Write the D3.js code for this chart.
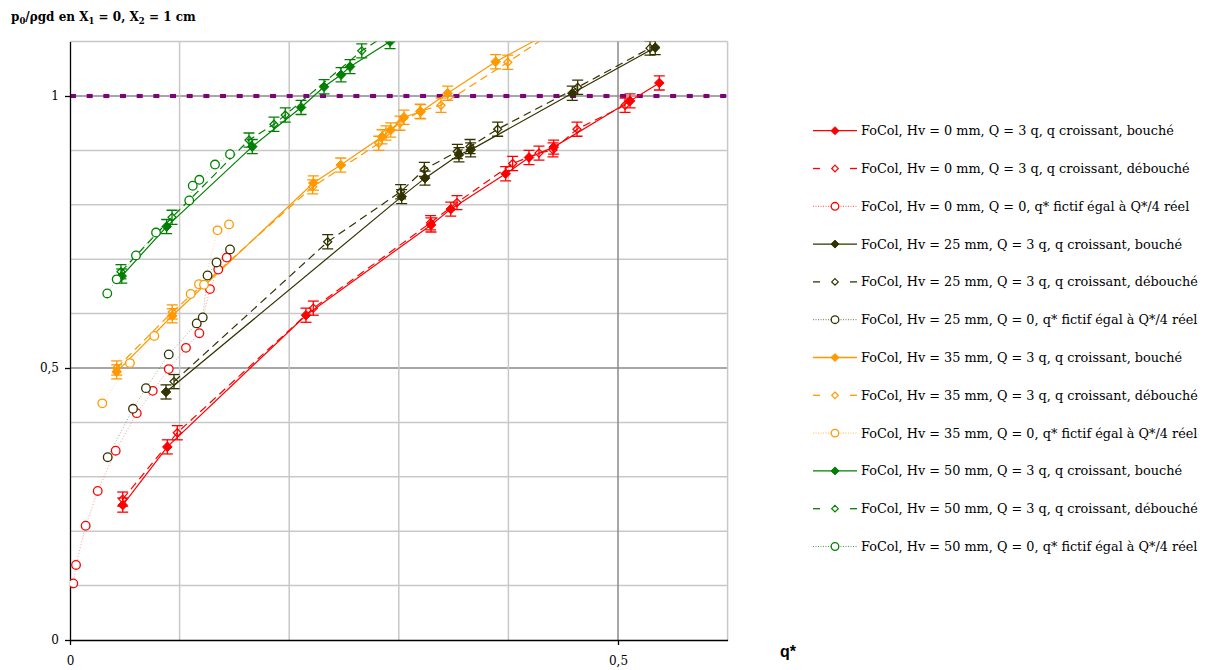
<!DOCTYPE html>
<html><head><meta charset="utf-8">
<script src="https://cdn.jsdelivr.net/npm/d3@7"></script>
<style>body{margin:0;background:#fff}</style>
</head><body><svg id="c" width="1208" height="670"></svg>
<script>
// ---------- DATA ----------
const red0BoucheX   = [0.0481,0.0888,0.2153,0.3294,0.3474,0.3975,0.4188,0.4413,0.5110,0.5377];
const red0BoucheY   = [0.248,0.355,0.597,0.763,0.792,0.857,0.887,0.906,0.991,1.024];
const red0DeboucheX = [0.0481,0.0979,0.2220,0.3290,0.3531,0.4039,0.4279,0.4407,0.4626,0.5064];
const red0DeboucheY = [0.259,0.381,0.610,0.767,0.804,0.876,0.895,0.901,0.939,0.983];
const red0ZeroX     = [0.003,0.0055,0.0143,0.0253,0.0417,0.0609,0.0755,0.0901,0.1058,0.118,0.1277,0.1353,0.143];
const red0ZeroY     = [0.104,0.138,0.210,0.274,0.348,0.417,0.458,0.498,0.537,0.564,0.645,0.681,0.703];

const olive25BoucheX   = [0.0876,0.3026,0.3239,0.3549,0.3656,0.4583,0.5340];
const olive25BoucheY   = [0.456,0.815,0.849,0.892,0.901,1.005,1.089];
const olive25DeboucheX = [0.0949,0.2351,0.3017,0.3233,0.3534,0.3650,0.3902,0.4632,0.5292];
const olive25DeboucheY = [0.475,0.732,0.824,0.865,0.898,0.907,0.939,1.016,1.088];
const olive25ZeroX     = [0.0344,0.0575,0.0693,0.0901,0.1156,0.1211,0.1255,0.1337,0.146];
const olive25ZeroY     = [0.336,0.425,0.463,0.525,0.582,0.593,0.670,0.694,0.718];

const orange35BoucheX   = [0.0426,0.0933,0.2220,0.2470,0.2847,0.2926,0.3047,0.3200,0.3446,0.3884,0.4416];
const orange35BoucheY   = [0.493,0.596,0.840,0.873,0.925,0.9375,0.961,0.971,1.005,1.063,1.121];
const orange35DeboucheX = [0.0426,0.0933,0.2214,0.2817,0.2883,0.3011,0.3193,0.3385,0.3994,0.4425];
const orange35DeboucheY = [0.500,0.603,0.833,0.913,0.932,0.950,0.972,0.983,1.062,1.120];
const orange35ZeroX     = [0.0295,0.0547,0.0769,0.1101,0.1177,0.1223,0.1346,0.1451];
const orange35ZeroY     = [0.435,0.509,0.559,0.636,0.654,0.653,0.753,0.764];

const green50BoucheX   = [0.0472,0.0882,0.1663,0.2108,0.2318,0.2473,0.2555,0.2920];
const green50BoucheY   = [0.669,0.760,0.907,0.979,1.017,1.039,1.054,1.100];
const green50DeboucheX = [0.0465,0.0931,0.1633,0.1861,0.1964,0.2662,0.2920];
const green50DeboucheY = [0.677,0.777,0.919,0.948,0.965,1.083,1.117];
const green50ZeroX     = [0.034,0.0426,0.0602,0.0785,0.1088,0.112,0.118,0.1323,0.146];
const green50ZeroY     = [0.637,0.663,0.707,0.749,0.808,0.835,0.846,0.874,0.893];

const errorHalf = 0.013;
const referenceY = 1;

const legendLabels = [
 "FoCol, Hv = 0 mm, Q = 3 q, q croissant, bouché",
 "FoCol, Hv = 0 mm, Q = 3 q, q croissant, débouché",
 "FoCol, Hv = 0 mm, Q = 0, q* fictif égal à Q*/4 réel",
 "FoCol, Hv = 25 mm, Q = 3 q, q croissant, bouché",
 "FoCol, Hv = 25 mm, Q = 3 q, q croissant, débouché",
 "FoCol, Hv = 25 mm, Q = 0, q* fictif égal à Q*/4 réel",
 "FoCol, Hv = 35 mm, Q = 3 q, q croissant, bouché",
 "FoCol, Hv = 35 mm, Q = 3 q, q croissant, débouché",
 "FoCol, Hv = 35 mm, Q = 0, q* fictif égal à Q*/4 réel",
 "FoCol, Hv = 50 mm, Q = 3 q, q croissant, bouché",
 "FoCol, Hv = 50 mm, Q = 3 q, q croissant, débouché",
 "FoCol, Hv = 50 mm, Q = 0, q* fictif égal à Q*/4 réel"
];
const xTicks = [0, 0.5];
const yTicks = [0, 0.5, 1];

// ---------- BUILD ----------
const colors = {red:"#ff0000", olive:"#333300", orange:"#ff9900", green:"#008000"};
const zip = (xs, ys) => xs.map((x,i)=>({x, y: ys[i]}));
const series = [
 {pts: zip(red0BoucheX, red0BoucheY), c: colors.red, t:"bouche"},
 {pts: zip(red0DeboucheX, red0DeboucheY), c: colors.red, t:"debouche"},
 {pts: zip(red0ZeroX, red0ZeroY), c: colors.red, t:"zero"},
 {pts: zip(olive25BoucheX, olive25BoucheY), c: colors.olive, t:"bouche"},
 {pts: zip(olive25DeboucheX, olive25DeboucheY), c: colors.olive, t:"debouche"},
 {pts: zip(olive25ZeroX, olive25ZeroY), c: colors.olive, t:"zero"},
 {pts: zip(orange35BoucheX, orange35BoucheY), c: colors.orange, t:"bouche"},
 {pts: zip(orange35DeboucheX, orange35DeboucheY), c: colors.orange, t:"debouche"},
 {pts: zip(orange35ZeroX, orange35ZeroY), c: colors.orange, t:"zero"},
 {pts: zip(green50BoucheX, green50BoucheY), c: colors.green, t:"bouche"},
 {pts: zip(green50DeboucheX, green50DeboucheY), c: colors.green, t:"debouche"},
 {pts: zip(green50ZeroX, green50ZeroY), c: colors.green, t:"zero"}
];

const svg = d3.select("#c");
const X0 = 70, X1 = 727.6, Y0 = 640, Y1 = 41.6;
const x = d3.scaleLinear().domain([0, 0.6]).range([X0, X1]);
const y = d3.scaleLinear().domain([0, 1.1]).range([Y0, Y1]);
const serif = "'DejaVu Serif', serif";
const fmt = d3.formatLocale({decimal:",", thousands:" ", grouping:[3], currency:["",""]}).format("~g");

// gridlines
const grid = svg.append("g");
d3.range(1, 12).forEach(i => {
  const v = i/10;
  grid.append("line").attr("x1", X0).attr("x2", X1).attr("y1", y(v)).attr("y2", y(v))
    .attr("stroke", (i===5||i===10) ? "#8a8a8a" : "#c8c8c8").attr("stroke-width", 1.5);
});
d3.range(1, 7).forEach(i => {
  const v = i/10;
  grid.append("line").attr("y1", Y0).attr("y2", Y1).attr("x1", x(v)).attr("x2", x(v))
    .attr("stroke", i===5 ? "#8a8a8a" : "#c8c8c8").attr("stroke-width", 1.5);
});

// reference line at 1
svg.append("line").attr("x1", X0).attr("x2", X1).attr("y1", y(referenceY)).attr("y2", y(referenceY))
  .attr("stroke", "#800080").attr("stroke-width", 4).attr("stroke-dasharray", "6 10.67");

// axes
const yAxis = d3.axisLeft(y).tickValues(yTicks).tickSize(5).tickSizeOuter(0).tickPadding(6).tickFormat(fmt);
const xAxis = d3.axisBottom(x).tickValues(xTicks).tickSize(5).tickSizeOuter(0).tickPadding(11).tickFormat(fmt);
const ga = svg.append("g").attr("transform", `translate(${X0},0)`).call(yAxis);
const gb = svg.append("g").attr("transform", `translate(0,${Y0})`).call(xAxis);
[ga, gb].forEach(g => {
  g.selectAll("path,line").attr("stroke", "#000").attr("stroke-width", 1.3);
  g.selectAll("text").attr("font-family", serif).attr("font-size", 12).attr("fill", "#000");
});

// clip
svg.append("clipPath").attr("id", "clip").append("rect")
  .attr("x", X0).attr("y", Y1).attr("width", X1 - X0).attr("height", Y0 - Y1);

const dataG = svg.append("g").attr("clip-path", "url(#clip)");
const line = d3.line().x(d => x(d.x)).y(d => y(d.y));
const diamond = s => `M0,${-s}L${s},0L0,${s}L${-s},0Z`;

function drawMarker(g, t, c) {
  if (t === "bouche") g.append("path").attr("d", diamond(4.8)).attr("fill", c).attr("stroke", c).attr("stroke-width", 1);
  else if (t === "debouche") g.append("path").attr("d", diamond(4)).attr("fill", "none").attr("stroke", c).attr("stroke-width", 1.3);
  else g.append("circle").attr("r", 4.3).attr("fill", "#fff").attr("stroke", c).attr("stroke-width", 1.3);
}
const lineStyle = {
  bouche: {w: 1.2, dash: null},
  debouche: {w: 1.2, dash: "8 5"},
  zero: {w: 0.7, dash: "1 2"}
};

// lines first
series.forEach(s => {
  const st = lineStyle[s.t];
  dataG.append("path").datum(s.pts).attr("d", line).attr("fill", "none")
    .attr("stroke", s.c).attr("stroke-width", st.w).attr("stroke-dasharray", st.dash)
    .attr("opacity", s.t === "zero" ? 0.6 : 1);
});
// error bars + markers
series.forEach(s => {
  s.pts.forEach(p => {
    const g = dataG.append("g").attr("transform", `translate(${x(p.x)},${y(p.y)})`);
    if (s.t !== "zero") {
      const e1 = y(p.y + errorHalf) - y(p.y), e2 = y(p.y - errorHalf) - y(p.y);
      g.append("line").attr("x1", 0).attr("x2", 0).attr("y1", e1).attr("y2", e2).attr("stroke", s.c).attr("stroke-width", 1.3);
      [e1, e2].forEach(e => g.append("line").attr("x1", -5.5).attr("x2", 5.5).attr("y1", e).attr("y2", e).attr("stroke", s.c).attr("stroke-width", 1.3));
    }
    drawMarker(g, s.t, s.c);
  });
});

// legend
const lg = svg.append("g");
const LX0 = 813, LX1 = 857, LM = 835, LT = 861, LY = 130.7, LS = 37.8;
const probe = lg.append("text").attr("font-family", serif).attr("font-size", 13).text(legendLabels[0]);
const w0 = probe.node().getComputedTextLength();
probe.remove();
const lfs = 13 * 313 / w0;
series.forEach((s, i) => {
  const yy = LY + i * LS;
  const g = lg.append("g");
  if (s.t === "bouche") g.append("line").attr("x1", LX0).attr("x2", LX1).attr("y1", yy).attr("y2", yy).attr("stroke", s.c).attr("stroke-width", 1.3);
  else if (s.t === "debouche") {
    g.append("line").attr("x1", LX0).attr("x2", LX0 + 7).attr("y1", yy).attr("y2", yy).attr("stroke", s.c).attr("stroke-width", 1.3);
    g.append("line").attr("x1", LX1 - 7).attr("x2", LX1).attr("y1", yy).attr("y2", yy).attr("stroke", s.c).attr("stroke-width", 1.3);
  } else g.append("line").attr("x1", LX0).attr("x2", LX1).attr("y1", yy).attr("y2", yy).attr("stroke", s.c).attr("stroke-width", 0.7).attr("stroke-dasharray", "1 1.5");
  const m = g.append("g").attr("transform", `translate(${LM},${yy})`);
  if (s.t === "bouche") m.append("path").attr("d", diamond(4)).attr("fill", s.c).attr("stroke", s.c);
  else if (s.t === "debouche") m.append("path").attr("d", diamond(3.3)).attr("fill", "#fff").attr("stroke", s.c).attr("stroke-width", 1.2);
  else m.append("circle").attr("r", 3.8).attr("fill", "#fff").attr("stroke", s.c).attr("stroke-width", 1.3);
  g.append("text").attr("x", LT).attr("y", yy).attr("dy", "0.35em")
    .attr("font-family", serif).attr("font-size", lfs).attr("fill", "#000").text(legendLabels[i]);
});

// title
const title = svg.append("text").attr("x", 11).attr("y", 21).attr("font-family", serif)
  .attr("font-weight", "bold").attr("font-size", 12).attr("fill", "#000");
title.append("tspan").text("p");
title.append("tspan").attr("font-size", 8.5).attr("dy", 3).text("0");
title.append("tspan").attr("dy", -3).text("/ρgd en X");
title.append("tspan").attr("font-size", 8.5).attr("dy", 3).text("1");
title.append("tspan").attr("dy", -3).text(" = 0, X");
title.append("tspan").attr("font-size", 8.5).attr("dy", 3).text("2");
title.append("tspan").attr("dy", -3).text(" = 1 cm");

// x axis title
svg.append("text").attr("x", 780).attr("y", 657).attr("font-family", "'Liberation Sans', sans-serif")
  .attr("font-weight", "bold").attr("font-size", 16).attr("fill", "#000").text("q*");
</script></body></html>
